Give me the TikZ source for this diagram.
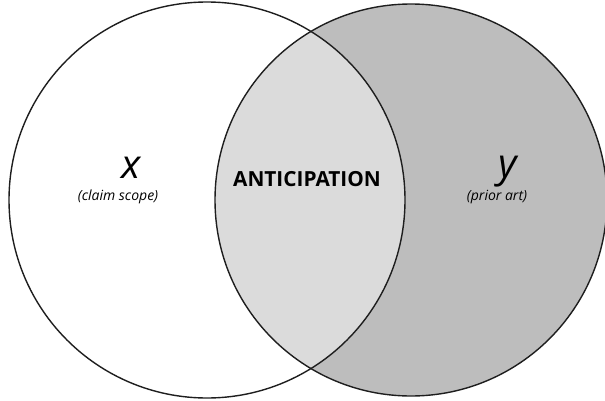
\documentclass[tikz,border=0pt]{standalone}
\usepackage{fontspec}
\setmainfont{Open Sans}
\usetikzlibrary{positioning}
\definecolor{vnink}{HTML}{1E1E1E}
\definecolor{vnshare}{HTML}{DBDBDB}
\definecolor{vnprior}{HTML}{BDBDBD}
\tikzset{
  setLine/.style={draw=vnink, line width=1.4pt},
  varLabel/.style={font=\itshape\fontsize{40}{40}\selectfont, inner sep=0pt, anchor=base},
  noteLabel/.style={font=\itshape\fontsize{14}{14}\selectfont, inner sep=0pt, anchor=base},
  keyLabel/.style={font=\bfseries\fontsize{20.8}{21}\selectfont, inner sep=0pt, anchor=base}
}

\begin{document}
\begin{tikzpicture}[x=1pt,y=1pt]
  \useasboundingbox (0,0) rectangle (605,400);
  \coordinate (claimc) at (207,200);
  \coordinate (priorc) at (411,200);

  \fill[vnprior] (priorc) circle (196);
  \begin{scope}
    \clip (claimc) circle (198);
    \fill[vnshare] (priorc) circle (196);
  \end{scope}
  \draw[setLine] (claimc) circle (198);
  \draw[setLine] (priorc) circle (196);

  \node[varLabel] (xvar) at (131,222) {x};
  \node[noteLabel] (claim) at (118,200) {(claim scope)};
  \node[keyLabel] (antic) at (307,214) {ANTICIPATION};
  \node[varLabel] (yvar) at (508,223) {y};
  \node[noteLabel] (prior) at (497,200) {(prior art)};
\end{tikzpicture}
\end{document}
